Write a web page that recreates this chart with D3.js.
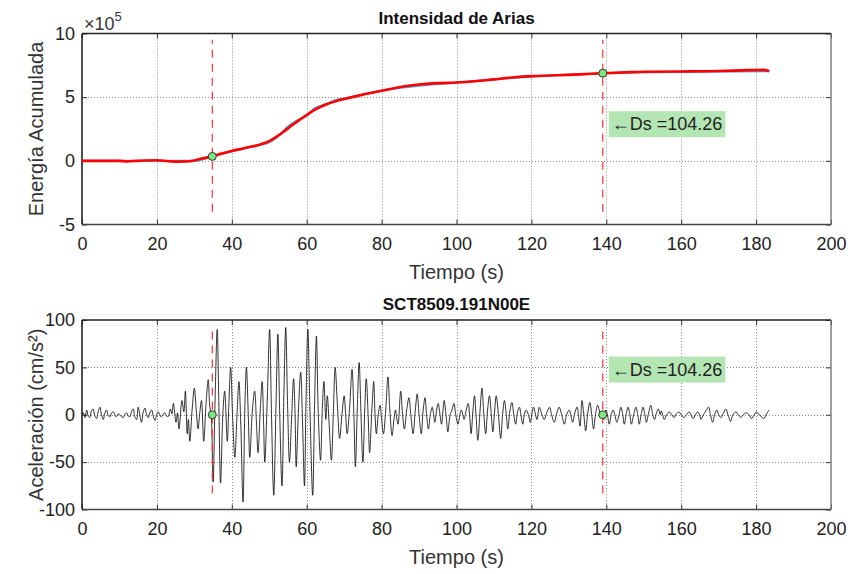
<!DOCTYPE html>
<html>
<head>
<meta charset="utf-8">
<script src="https://cdn.jsdelivr.net/npm/d3@7"></script>
<style>
  html, body { margin: 0; padding: 0; background: #fff; }
  svg { display: block; font-family: "Liberation Sans", Arial, sans-serif; }
</style>
</head>
<body>
<svg id="chart" width="848" height="574"></svg>
<script>
// ---------------- DATA ----------------
const xTicks = [0, 20, 40, 60, 80, 100, 120, 140, 160, 180, 200];
const ariasYTicks = [-5, 0, 5, 10];
const accYTicks = [-100, -50, 0, 50, 100];

const titleTop = "Intensidad de Arias";
const titleBottom = "SCT8509.191N00E";
const xLabel = "Tiempo (s)";
const yLabelTop = "Energía Acumulada";
const yLabelBottom = "Aceleración (cm/s²)";

// Arias intensity (x 1e5)
const ariasTime  = [0, 5, 10, 12, 15, 20, 25, 28, 30, 32, 34.8, 37, 40, 43, 45, 48, 50, 52, 55, 58, 60, 62, 65, 68, 70, 75, 80, 85, 90, 95, 100, 105, 110, 115, 120, 125, 130, 135, 139.1, 145, 150, 160, 170, 178, 182, 183.5];
const ariasValue = [0, 0, 0, -0.04, 0, 0.04, -0.06, -0.05, 0.03, 0.18, 0.35, 0.55, 0.78, 0.97, 1.1, 1.32, 1.55, 1.9, 2.55, 3.2, 3.6, 3.98, 4.4, 4.7, 4.85, 5.2, 5.5, 5.8, 6.0, 6.1, 6.15, 6.25, 6.4, 6.55, 6.65, 6.7, 6.75, 6.82, 6.88, 6.95, 7.0, 7.02, 7.05, 7.12, 7.14, 7.03];
// Raw (blue) cumulative curve, visible only where it departs from the red one
const ariasRawTime  = [0, 30, 34.8, 45, 48, 50, 53, 55, 57, 60, 62, 65, 68, 70, 75, 80, 100, 140, 183.5];
const ariasRawValue = [0, 0.0, 0.35, 1.08, 1.28, 1.45, 2.1, 2.7, 3.1, 3.55, 4.1, 4.45, 4.8, 4.9, 5.2, 5.5, 6.15, 6.88, 7.03];

// Significant duration markers
const tStart = 34.8, tEnd = 139.06;
const ariasStart = 0.35, ariasEnd = 6.88;
const durationLabel = "\u2190Ds =104.26";
const dashAriasRange = [-4.0, 9.5];
const dashAccRange = [-83, 93];
const labelAriasY = 2.9;
const labelAccY = 48;

// Acceleration record [t (s), a (cm/s²)] – extrema
const accPeaks = [[0,0],[0.4,2],[0.8,-3],[1.25,5],[1.7,-2],[2.1,-3],[2.5,4],[3.0,6],[3.4,-1],[3.9,-4],[4.3,3],[4.8,8],[5.2,0],[5.7,-5],[6.1,2],[6.6,5],[7.0,-1],[7.5,-2],[7.9,2],[8.4,3],[8.8,-1],[9.2,-2],[9.7,1],[10.1,0],[10.5,-2],[11.0,-3],[11.5,1],[11.9,2],[12.3,-1],[12.8,-2],[13.2,3],[13.7,6],[14.1,-2],[14.6,-5],[15.0,8],[15.4,1],[15.9,-8],[16.3,2],[16.8,7],[17.2,1],[17.7,-3],[18.1,2],[18.6,5],[19.0,-1],[19.5,-6],[20.0,1],[20.4,3],[20.8,-1],[21.2,-2],[21.7,1],[22.1,2],[22.5,-1],[23.0,-2],[23.6,6],[24.0,1],[24.4,12],[25.1,-8],[25.5,2],[25.9,-15],[26.7,15],[27.2,3],[27.6,25],[28.1,-20],[28.4,-5],[28.8,-28],[29.4,5],[30.0,28],[30.5,5],[31.0,-15],[31.4,0],[31.9,15],[32.5,-28],[33.1,10],[33.7,37],[34.1,10],[34.5,0],[35.0,-71],[35.5,10],[36.1,90],[36.5,20],[37.0,-72],[37.6,0],[38.1,25],[38.8,-28],[39.2,10],[39.7,50],[40.2,0],[40.8,-45],[41.4,0],[41.9,35],[42.4,-10],[43.0,-92],[43.5,10],[43.9,50],[44.4,0],[44.8,-45],[45.5,5],[46.1,25],[46.6,-10],[47.0,-40],[47.6,5],[48.1,35],[48.5,-10],[48.8,-50],[49.5,20],[50.1,90],[50.6,0],[51.2,-85],[51.8,10],[52.3,85],[52.8,0],[53.4,-75],[53.9,20],[54.4,92],[54.9,10],[55.4,-50],[56.0,0],[56.5,38],[56.9,0],[57.2,-55],[57.8,5],[58.4,45],[58.9,-10],[59.4,-75],[59.8,10],[60.3,90],[60.9,0],[61.6,-85],[62.1,10],[62.6,83],[63.1,0],[63.7,-48],[64.2,10],[64.6,35],[65.1,-5],[65.5,20],[66.0,-10],[66.6,-48],[67.1,0],[67.6,50],[68.2,10],[68.8,-25],[69.4,0],[70.0,20],[70.4,0],[70.8,-20],[71.5,10],[72.1,48],[72.6,0],[73.0,-55],[73.5,5],[74.0,55],[74.5,0],[75.0,-50],[75.5,5],[75.9,38],[76.4,0],[76.8,-40],[77.4,5],[77.9,35],[78.2,5],[78.6,-20],[79.1,0],[79.6,10],[80.0,-5],[80.5,-20],[81.1,5],[81.7,40],[82.2,5],[82.8,-22],[83.3,-5],[83.7,5],[84.1,-5],[84.4,-10],[85.1,25],[85.6,0],[86.1,-15],[86.7,5],[87.3,18],[87.8,0],[88.4,-20],[89.0,5],[89.5,22],[90.0,0],[90.6,-20],[91.1,5],[91.6,18],[92.0,0],[92.5,-15],[93.0,0],[93.5,8],[93.9,0],[94.2,-8],[94.7,5],[95.1,12],[95.6,0],[96.0,-10],[96.4,5],[96.7,15],[97.2,0],[97.7,-18],[98.3,0],[98.8,5],[99.3,12],[99.8,0],[100.4,-10],[100.9,0],[101.3,5],[101.7,0],[102.0,-5],[102.6,5],[103.1,12],[103.5,0],[103.9,-20],[104.4,5],[104.8,20],[105.2,0],[105.7,-27],[106.3,5],[106.8,28],[107.3,0],[107.8,-20],[108.3,5],[108.8,20],[109.3,0],[109.7,-18],[110.2,5],[110.6,20],[111.2,0],[111.8,-25],[112.3,0],[112.8,15],[113.3,0],[113.7,-15],[114.3,5],[114.8,13],[115.3,0],[115.8,-10],[116.3,3],[116.8,8],[117.2,0],[117.7,-10],[118.1,0],[118.6,5],[119.2,0],[119.7,-8],[120.2,3],[120.6,8],[121.1,0],[121.5,-5],[122.1,8],[122.6,3],[123.0,-2],[123.4,-5],[124.1,2],[124.8,8],[125.4,0],[126.1,-8],[126.8,2],[127.4,8],[128.1,0],[128.8,-10],[129.4,0],[130.1,5],[130.5,0],[131.0,-8],[131.6,2],[132.2,8],[132.6,-2],[133.0,-12],[133.5,15],[134.0,0],[134.5,-17],[135.0,0],[135.6,13],[136.1,0],[136.6,-15],[137.1,0],[137.7,10],[138.1,5],[138.5,0],[139.0,-2],[139.4,-5],[139.9,5],[140.3,0],[140.8,-10],[141.3,0],[141.8,5],[142.3,0],[142.8,-8],[143.4,0],[143.9,8],[144.4,0],[144.8,-10],[145.3,0],[145.8,8],[146.3,0],[146.7,-10],[147.3,0],[147.9,8],[148.4,0],[148.8,-10],[149.3,0],[149.8,8],[150.3,0],[150.7,-8],[151.3,2],[151.9,10],[152.4,0],[152.9,-5],[153.4,2],[153.9,6],[154.4,0],[154.7,4],[155.5,-5],[156.1,0],[156.8,3],[157.5,0],[158.1,-3],[158.7,1],[159.4,3],[160.0,0],[160.7,-3],[161.4,0],[162.1,3],[162.6,0],[163.2,-4],[163.8,0],[164.4,3],[164.9,0],[165.3,-5],[165.9,0],[166.6,4],[167.3,8],[167.8,0],[168.4,-8],[168.9,0],[169.5,5],[170.0,0],[170.6,-3],[171.2,1],[171.9,6],[172.5,0],[173.2,-7],[173.8,0],[174.6,3],[175.2,0],[175.9,-3],[176.6,0],[177.4,2],[178.1,0],[178.8,-4],[179.5,0],[180.1,3],[180.8,0],[181.4,-2],[182.1,-4],[182.8,1],[183.5,5]];

// ---------------- DRAW ----------------
const svg = d3.select("#chart");
const tickFont = 18, labelFont = 20, titleFont = 17;
const fmt = d => String(d);

function panel(cfg) {
  const g = svg.append("g");
  const x = d3.scaleLinear().domain([0, 200]).range([cfg.left, cfg.right]);
  const y = d3.scaleLinear().domain(cfg.yDomain).range([cfg.bottom, cfg.top]);

  // grid
  const grid = g.append("g").attr("stroke", "#8a8a8a").attr("stroke-width", 1).attr("stroke-dasharray", "1,2");
  grid.selectAll("line.gx").data(cfg.xTicks.slice(1, -1)).join("line")
    .attr("x1", d => Math.round(x(d)) + 0.5).attr("x2", d => Math.round(x(d)) + 0.5)
    .attr("y1", cfg.top).attr("y2", cfg.bottom);
  grid.selectAll("line.gy").data(cfg.yTicks.slice(1, -1)).join("line")
    .attr("y1", d => Math.round(y(d)) + 0.5).attr("y2", d => Math.round(y(d)) + 0.5)
    .attr("x1", cfg.left).attr("x2", cfg.right);

  // axes
  const ax = (a) => a.call(s => s.select(".domain").remove())
    .call(s => s.selectAll(".tick line").attr("stroke", "#333").attr("stroke-width", 1));
  const txtStyle = s => s.selectAll("text").attr("font-size", tickFont).attr("fill", "#222").attr("font-family", "Liberation Sans, Arial, sans-serif");
  g.append("g").attr("transform", `translate(0,${cfg.bottom})`)
    .call(d3.axisBottom(x).tickValues(cfg.xTicks).tickSize(-5).tickPadding(13).tickFormat(fmt))
    .call(ax).call(txtStyle);
  g.append("g").attr("transform", `translate(0,${cfg.top})`)
    .call(d3.axisTop(x).tickValues(cfg.xTicks).tickSize(-5).tickFormat(""))
    .call(ax);
  g.append("g").attr("transform", `translate(${cfg.left},0)`)
    .call(d3.axisLeft(y).tickValues(cfg.yTicks).tickSize(-5).tickPadding(7).tickFormat(fmt))
    .call(ax).call(txtStyle);
  g.append("g").attr("transform", `translate(${cfg.right},0)`)
    .call(d3.axisRight(y).tickValues(cfg.yTicks).tickSize(-5).tickFormat(""))
    .call(ax);

  // frame
  g.append("line").attr("x1", cfg.left).attr("x2", cfg.right).attr("y1", cfg.top).attr("y2", cfg.top).attr("stroke", "#222").attr("stroke-width", 1.6);
  g.append("line").attr("x1", cfg.left).attr("x2", cfg.right).attr("y1", cfg.bottom).attr("y2", cfg.bottom).attr("stroke", "#444").attr("stroke-width", 1.4);
  g.append("line").attr("x1", cfg.left).attr("x2", cfg.left).attr("y1", cfg.top).attr("y2", cfg.bottom).attr("stroke", "#222").attr("stroke-width", 1.6);
  g.append("line").attr("x1", cfg.right).attr("x2", cfg.right).attr("y1", cfg.top).attr("y2", cfg.bottom).attr("stroke", "#777").attr("stroke-width", 1.4);

  // title & labels
  svg.append("text").attr("x", (cfg.left + cfg.right) / 2).attr("y", cfg.top - 10)
    .attr("text-anchor", "middle").attr("font-size", titleFont).attr("font-weight", "bold").attr("fill", "#111").text(cfg.title);
  svg.append("text").attr("x", (cfg.left + cfg.right) / 2).attr("y", cfg.bottom + 54)
    .attr("text-anchor", "middle").attr("font-size", labelFont).attr("fill", "#333").text(xLabel);
  svg.append("text").attr("transform", `translate(43,${(cfg.top + cfg.bottom) / 2}) rotate(-90)`)
    .attr("text-anchor", "middle").attr("font-size", labelFont).attr("fill", "#333").text(cfg.yLabel);

  return { g, x, y };
}

// ---- Top panel ----
const P1 = panel({ left: 82, right: 831, top: 33.5, bottom: 224.5, yDomain: [-5, 10],
  xTicks, yTicks: ariasYTicks, title: titleTop, yLabel: yLabelTop });

svg.append("text").attr("x", 84).attr("y", 30).attr("font-size", 18).attr("fill", "#333")
  .text("\u00d710").append("tspan").attr("dy", -9).attr("font-size", 13).text("5");

const ariasRaw = ariasRawTime.map((t, i) => [t, ariasRawValue[i]]);
const arias = ariasTime.map((t, i) => [t, ariasValue[i]]);
const lineA = d3.line().x(d => P1.x(d[0])).y(d => P1.y(d[1])).curve(d3.curveMonotoneX);
P1.g.append("path").attr("d", lineA(ariasRaw)).attr("fill", "none").attr("stroke", "#5b9bd5").attr("stroke-width", 2);
P1.g.append("path").attr("d", lineA(arias)).attr("fill", "none").attr("stroke", "#ff0000").attr("stroke-width", 2.6).attr("stroke-linejoin", "round");

function markers(P, yr, pts, labelY) {
  [tStart, tEnd].forEach(t => {
    P.g.append("line").attr("x1", P.x(t)).attr("x2", P.x(t)).attr("y1", P.y(yr[0])).attr("y2", P.y(yr[1]))
      .attr("stroke", "#ff3030").attr("stroke-width", 1.2).attr("stroke-dasharray", "8,6");
  });
  P.g.selectAll("circle.m").data(pts).join("circle")
    .attr("cx", d => P.x(d[0])).attr("cy", d => P.y(d[1])).attr("r", 4)
    .attr("fill", "#7ee87e").attr("stroke", "#333").attr("stroke-width", 1);
  const tg = P.g.append("g");
  const txt = tg.append("text").attr("x", P.x(tEnd) + 9).attr("y", P.y(labelY)).attr("dy", "0.35em")
    .attr("font-size", 18).attr("fill", "#222").text(durationLabel);
  const bb = txt.node().getBBox();
  tg.insert("rect", "text").attr("x", bb.x - 3).attr("y", bb.y - 3).attr("width", bb.width + 6).attr("height", bb.height + 6)
    .attr("fill", "#b4e6b4");
}
markers(P1, dashAriasRange, [[tStart, ariasStart], [tEnd, ariasEnd]], labelAriasY);

// ---- Bottom panel ----
const P2 = panel({ left: 82, right: 831, top: 320, bottom: 509.5, yDomain: [-100, 100],
  xTicks, yTicks: accYTicks, title: titleBottom, yLabel: yLabelBottom });

const lineB = d3.line().x(d => P2.x(d[0])).y(d => P2.y(d[1])).curve(d3.curveCatmullRom.alpha(0.5));
P2.g.append("path").attr("d", lineB(accPeaks)).attr("fill", "none").attr("stroke", "#000").attr("stroke-width", 0.8);
markers(P2, dashAccRange, [[tStart, 0], [tEnd, 0]], labelAccY);
</script>
</body>
</html>
